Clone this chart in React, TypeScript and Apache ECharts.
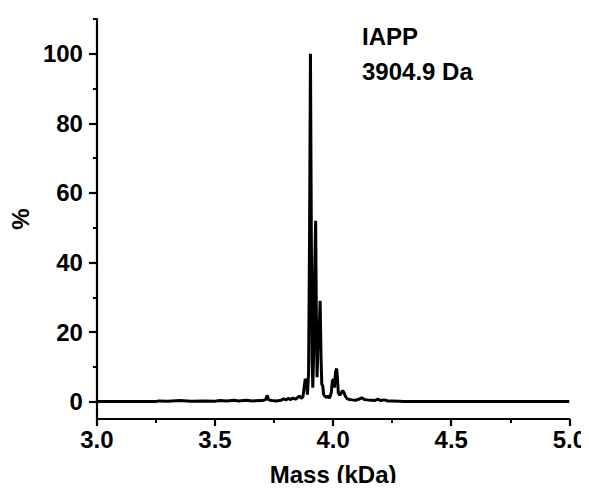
import React, { useEffect, useRef } from "react";
import * as echarts from "echarts";

const massKDa = [
  3.0, 3.25, 3.26, 3.3, 3.35, 3.4, 3.45, 3.5, 3.52, 3.55, 3.58, 3.6, 3.63, 3.66, 3.7,
  3.715, 3.721, 3.727, 3.74, 3.76, 3.78, 3.79, 3.8, 3.81, 3.82, 3.83, 3.84, 3.85, 3.857,
  3.865, 3.872, 3.878, 3.882, 3.887, 3.891, 3.896, 3.9, 3.904, 3.908, 3.911, 3.914,
  3.918, 3.921, 3.926, 3.929, 3.932, 3.936, 3.940, 3.945, 3.949, 3.952, 3.956, 3.96,
  3.966, 3.972, 3.978, 3.985, 3.992, 3.997, 4.002, 4.006, 4.01, 4.015, 4.019, 4.022,
  4.028, 4.034, 4.04, 4.046, 4.052, 4.06, 4.07, 4.08, 4.095, 4.11, 4.121, 4.132, 4.145,
  4.16, 4.175, 4.19, 4.2, 4.218, 4.23, 4.25, 4.28, 4.3, 5.0,
];

const intensityPct = [
  0, 0, 0.2, 0.1, 0.3, 0.1, 0.2, 0.1, 0.3, 0.2, 0.4, 0.2, 0.4, 0.2, 0.3,
  0.6, 1.8, 0.5, 0.3, 0.2, 0.4, 0.8, 0.5, 0.9, 0.6, 1.0, 0.7, 1.2, 1.6,
  1.0, 1.3, 4.5, 6.5, 6.0, 2.0, 8.0, 46, 100, 45, 12, 4,
  15, 35, 52, 25, 7, 17, 18, 29, 12, 5, 4.5, 2,
  1.5, 1.2, 1.6, 1.0, 2.5, 6.0, 6.5, 4.0, 8.5, 9.5, 6.0, 2.5,
  1.8, 2.5, 3.2, 2.6, 1.5, 0.8, 0.6, 0.5, 0.4, 0.7, 1.1, 0.6, 0.5,
  0.4, 0.3, 0.7, 0.3, 0.5, 0.2, 0.2, 0.1, 0, 0,
];

const yMajorTicks = [0, 20, 40, 60, 80, 100];
const yMinorTicks = [10, 30, 50, 70, 90, 110];
const annotationLines = ["IAPP", "3904.9 Da"];

const FONT = "'Liberation Sans', Arial, sans-serif";
const FS = 24;

export default function App() {
  const ref = useRef<HTMLDivElement>(null);

  useEffect(() => {
    if (!ref.current) return;
    const chart = echarts.init(ref.current, null, { renderer: "svg" });
    const data = massKDa.map((m, i) => [m, intensityPct[i]]);
    chart.setOption({
      animation: false,
      backgroundColor: "#ffffff",
      grid: { left: 92, right: 19, top: 19, bottom: 72, containLabel: false },
      xAxis: {
        type: "value",
        min: 3,
        max: 5,
        interval: 0.5,
        name: "Mass (kDa)",
        nameLocation: "middle",
        nameGap: 43,
        nameTextStyle: { fontFamily: FONT, fontWeight: "bold", fontSize: FS, color: "#000" },
        axisLine: { show: true, onZero: false, lineStyle: { color: "#000", width: 2.2 } },
        axisTick: { show: true, inside: false, length: 7, lineStyle: { color: "#000", width: 2.2 } },
        minorTick: { show: true, splitNumber: 2, length: 4, lineStyle: { color: "#000", width: 2 } },
        axisLabel: {
          margin: 8,
          fontFamily: FONT,
          fontWeight: "bold",
          fontSize: FS,
          color: "#000",
          alignMinLabel: "center",
          alignMaxLabel: "center",
          formatter: (v: number) => v.toFixed(1),
        },
        splitLine: { show: false },
      },
      yAxis: [
        {
          type: "value",
          min: -5,
          max: 110,
          name: "%",
          nameLocation: "middle",
          nameGap: 58,
          nameRotate: 90,
          nameTextStyle: { fontFamily: FONT, fontWeight: "bold", fontSize: FS, color: "#000" },
          axisLine: { show: true, onZero: false, lineStyle: { color: "#000", width: 2.2 } },
          axisTick: {
            show: true,
            inside: false,
            length: 8,
            customValues: yMajorTicks,
            lineStyle: { color: "#000", width: 2.2 },
          },
          axisLabel: {
            margin: 14,
            fontFamily: FONT,
            fontWeight: "bold",
            fontSize: FS,
            color: "#000",
            customValues: yMajorTicks,
          },
          splitLine: { show: false },
        },
        {
          type: "value",
          min: -5,
          max: 110,
          position: "left",
          axisLine: { show: false },
          axisTick: {
            show: true,
            inside: false,
            length: 4,
            customValues: yMinorTicks,
            lineStyle: { color: "#000", width: 2 },
          },
          axisLabel: { show: false },
          splitLine: { show: false },
        },
      ],
      series: [
        {
          type: "line",
          data,
          showSymbol: false,
          symbol: "none",
          lineStyle: { color: "#000", width: 3, join: "bevel" },
          itemStyle: { color: "#000" },
          z: 3,
        },
      ],
      graphic: annotationLines.map((t, i) => ({
        type: "text",
        left: 362,
        top: 24 + i * 35,
        style: {
          text: t,
          fontFamily: FONT,
          fontWeight: "bold",
          fontSize: FS,
          fill: "#000",
        },
      })),
    });
    return () => chart.dispose();
  }, []);

  return <div ref={ref} style={{ width: 589, height: 491, margin: -8 }} />;
}
